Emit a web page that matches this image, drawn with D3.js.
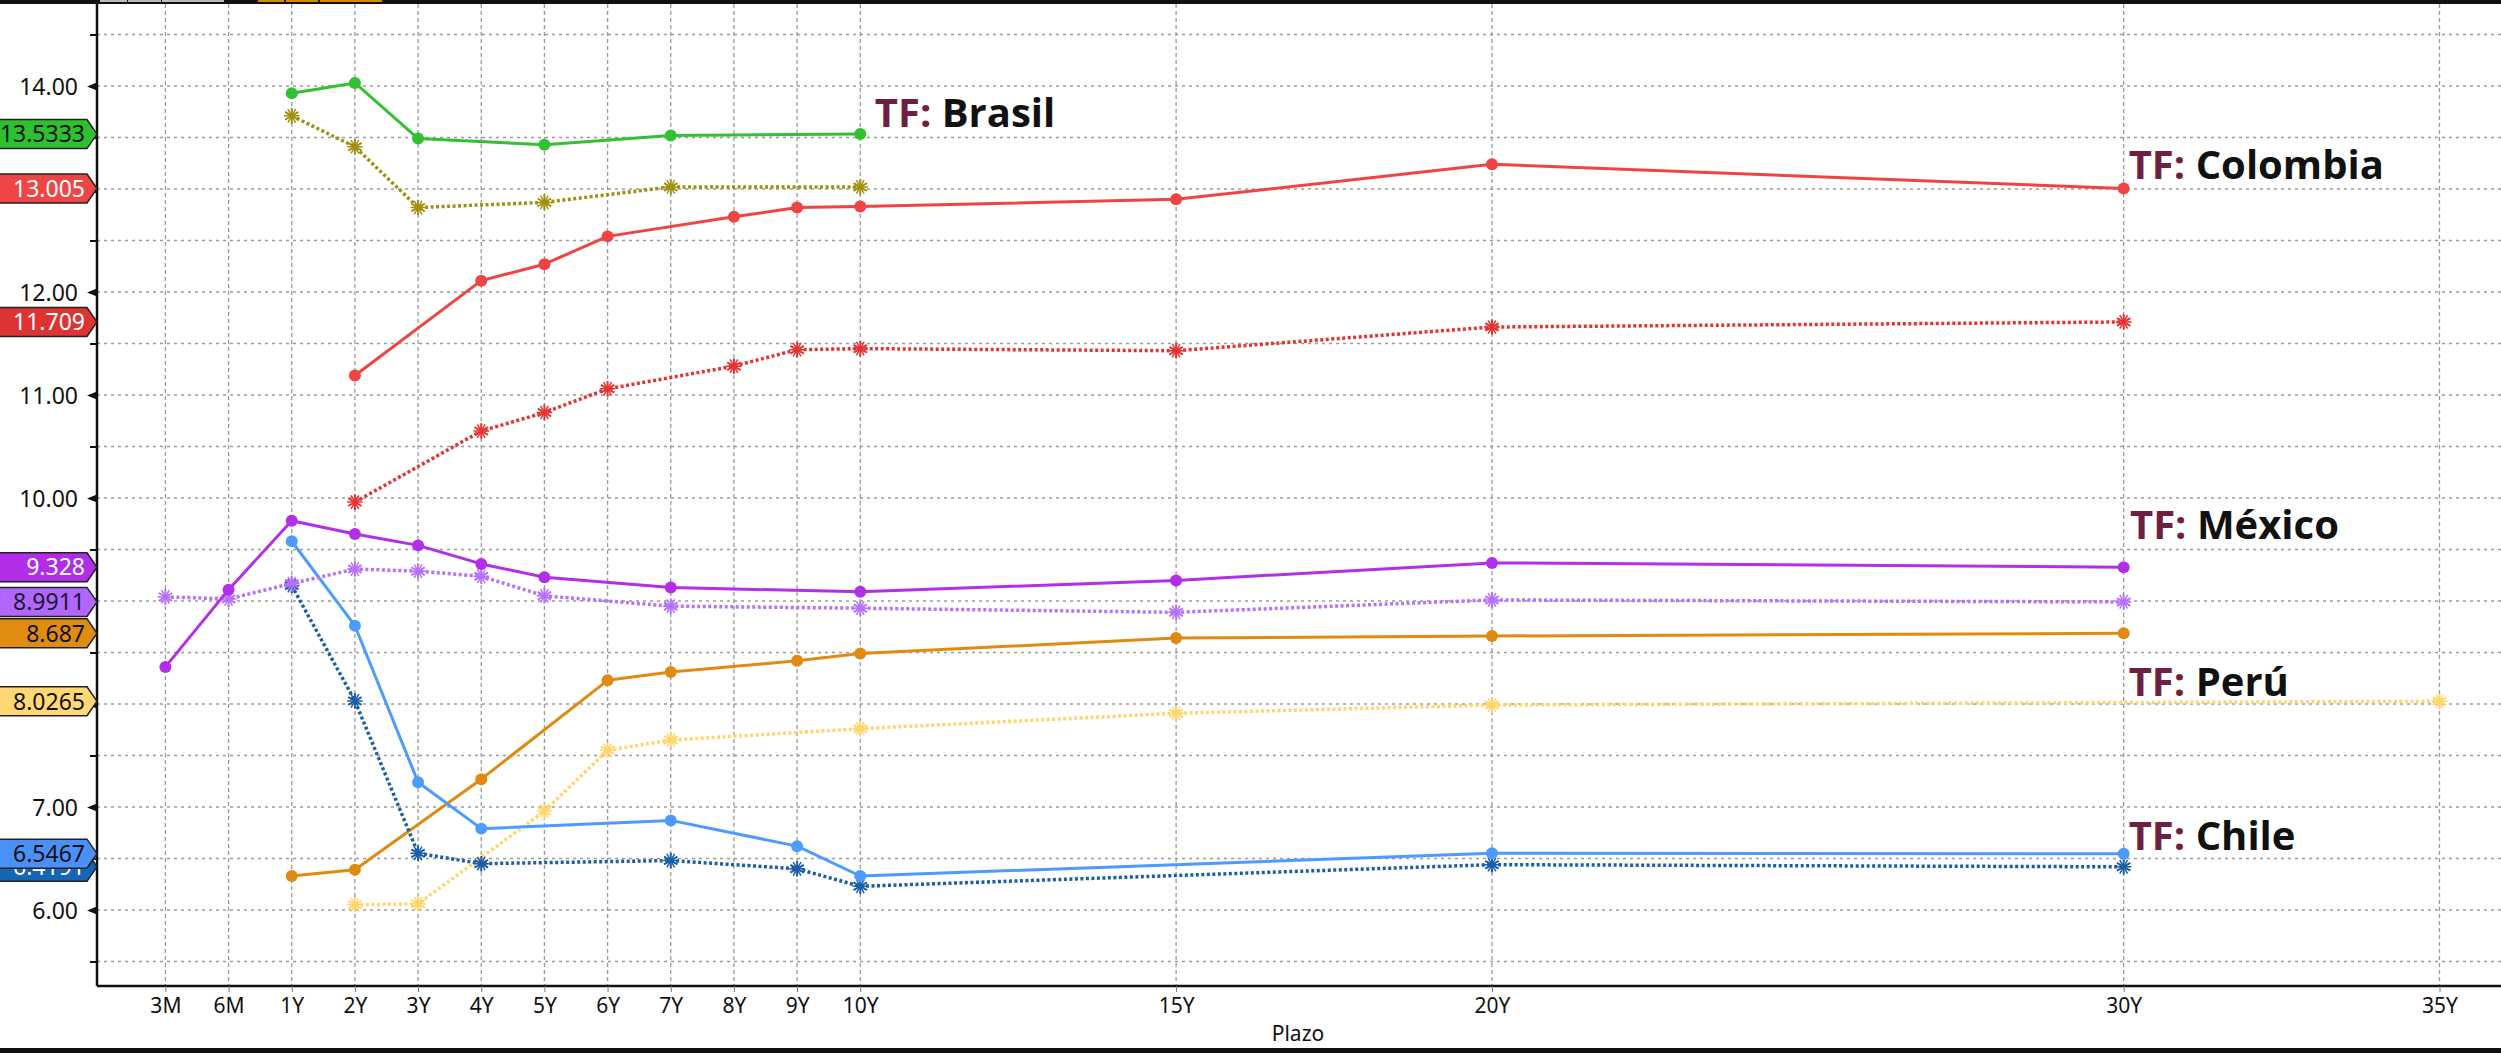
<!DOCTYPE html>
<html>
<head>
<meta charset="utf-8">
<script src="https://cdn.jsdelivr.net/npm/d3@7"></script>
<style>
  html, body { margin: 0; padding: 0; background: #fff; }
  svg { display: block; }
  .tick text { font-family: "Noto Sans", "Liberation Sans", sans-serif; fill: #111; }
  .note { font-family: "Open Sans", "Noto Sans", sans-serif; font-weight: 700; font-size: 40px; }
</style>
</head>
<body>
<div id="chart"></div>
<script>
// Tenors (labels and their position on the x axis)
const tenorLabels = ["3M", "6M", "1Y", "2Y", "3Y", "4Y", "5Y", "6Y", "7Y", "8Y", "9Y", "10Y", "15Y", "20Y", "30Y", "35Y"];
const tenorPos = [-1, 0, 1, 2, 3, 4, 5, 6, 7, 8, 9, 10, 15, 20, 30, 35];
const yTicks = [5.5, 6, 6.5, 7, 7.5, 8, 8.5, 9, 9.5, 10, 10.5, 11, 11.5, 12, 12.5, 13, 13.5, 14, 14.5];

// Brasil
const brasilTenors = ["1Y", "2Y", "3Y", "5Y", "7Y", "10Y"];
const brasilActual = [13.93, 14.03, 13.49, 13.43, 13.52, 13.5333];
const brasilPrevio = [13.71, 13.41, 12.82, 12.87, 13.02, 13.02];

// Colombia
const colombiaTenors = ["2Y", "4Y", "5Y", "6Y", "8Y", "9Y", "10Y", "15Y", "20Y", "30Y"];
const colombiaActual = [11.19, 12.11, 12.27, 12.54, 12.73, 12.82, 12.83, 12.90, 13.24, 13.005];
const colombiaPrevio = [9.96, 10.65, 10.83, 11.06, 11.28, 11.44, 11.45, 11.43, 11.66, 11.709];

// México
const mexicoTenors = ["3M", "6M", "1Y", "2Y", "3Y", "4Y", "5Y", "7Y", "10Y", "15Y", "20Y", "30Y"];
const mexicoActual = [8.36, 9.11, 9.78, 9.65, 9.54, 9.36, 9.23, 9.13, 9.09, 9.20, 9.37, 9.328];
const mexicoPrevio = [9.04, 9.02, 9.17, 9.31, 9.29, 9.24, 9.05, 8.95, 8.93, 8.89, 9.01, 8.9911];

// Perú
const peruTenors = ["1Y", "2Y", "4Y", "6Y", "7Y", "9Y", "10Y", "15Y", "20Y", "30Y"];
const peruActual = [6.33, 6.39, 7.27, 8.23, 8.31, 8.42, 8.49, 8.64, 8.66, 8.687];
const peruPrevTenors = ["2Y", "3Y", "5Y", "6Y", "7Y", "10Y", "15Y", "20Y", "35Y"];
const peruPrevio = [6.05, 6.06, 6.96, 7.55, 7.65, 7.76, 7.91, 7.99, 8.0265];

// Chile
const chileTenors = ["1Y", "2Y", "3Y", "4Y", "7Y", "9Y", "10Y", "20Y", "30Y"];
const chileActual = [9.58, 8.76, 7.24, 6.79, 6.87, 6.62, 6.33, 6.55, 6.5467];
const chilePrevio = [9.15, 8.03, 6.55, 6.45, 6.48, 6.40, 6.23, 6.44, 6.4191];

// Last-value tags on the left axis
const tagLabels = ["6.4191", "6.5467", "8.0265", "8.687", "8.9911", "9.328", "11.709", "13.005", "13.5333"];
const tagValues = [6.4191, 6.5467, 8.0265, 8.687, 8.9911, 9.328, 11.709, 13.005, 13.5333];
const tagFill = ["#1565b5", "#4a90f8", "#ffd873", "#e08c10", "#b066ff", "#b02ee8", "#dd3333", "#f04545", "#2ec02e"];
const tagText = ["#ffffff", "#111111", "#111111", "#111111", "#1a1a2a", "#ffffff", "#ffffff", "#ffffff", "#111111"];

// Country notes
const noteNames = ["Brasil", "Colombia", "México", "Perú", "Chile"];
const noteTenor = [10.23, 30.08, 30.1, 30.08, 30.08];
const noteValue = [13.60, 13.10, 9.60, 8.08, 6.58];

const width = 2501, height = 1053;
const plotLeft = 97, plotRight = 2501, plotTop = 4, plotBottom = 986;

const svg = d3.select("#chart").append("svg")
    .attr("width", width)
    .attr("height", height);

const tenorX = d3.scaleOrdinal().domain(tenorLabels).range(tenorPos);
const x = d3.scaleLinear().domain([-1, 35]).range([165.4, 2439.5]);
const y = d3.scaleLinear().domain([6, 14]).range([910, 86]);

// frame bars (top and bottom of the screenshot)
svg.append("rect").attr("x", 0).attr("y", 0).attr("width", width).attr("height", 4).attr("fill", "#111");
svg.append("rect").attr("x", 0).attr("y", 1048).attr("width", width).attr("height", 5).attr("fill", "#111");
[[100, 27, "#bbb"], [128, 33, "#bbb"], [162, 62, "#bbb"], [258, 26, "#d9860e"], [286, 32, "#d9860e"], [320, 62, "#d9860e"]]
    .forEach(b => svg.append("rect").attr("x", b[0]).attr("y", 0).attr("width", b[1]).attr("height", 2).attr("fill", b[2]));

// grid
const grid = svg.append("g").attr("class", "grid");
grid.selectAll(".hgrid")
    .data(yTicks)
    .join("line")
    .attr("x1", plotLeft).attr("x2", plotRight)
    .attr("y1", d => y(d)).attr("y2", d => y(d))
    .attr("stroke", "#9a9a9a").attr("stroke-width", 1.3)
    .attr("stroke-dasharray", "3,4");
grid.selectAll(".vgrid")
    .data(tenorLabels)
    .join("line")
    .attr("x1", d => x(tenorX(d))).attr("x2", d => x(tenorX(d)))
    .attr("y1", plotTop).attr("y2", plotBottom)
    .attr("stroke", "#9a9a9a").attr("stroke-width", 1.3)
    .attr("stroke-dasharray", "4,3");

// axes (labels hidden behind a value tag are left out)
const coveredByTag = d => tagValues.some(v => Math.abs(v - d) < 0.2);
const yAxis = svg.append("g")
    .attr("transform", `translate(${plotLeft},0)`)
    .call(d3.axisLeft(y).tickValues(yTicks).tickSize(7).tickPadding(12)
        .tickFormat(d => Number.isInteger(d) && !coveredByTag(d) ? d.toFixed(2) : ""));
yAxis.select(".domain").attr("d", `M0,${plotTop}V${plotBottom}`).attr("stroke", "#111").attr("stroke-width", 2.5);
yAxis.selectAll(".tick line").attr("stroke", "#111").attr("stroke-width", 2);
yAxis.selectAll(".tick text").attr("font-size", 23).attr("dy", "0.36em");
yAxis.selectAll(".tick").filter(d => Number.isInteger(d))
    .append("path").attr("d", "M0,-4L-10,0L0,4Z").attr("fill", "#111");

const xAxis = svg.append("g")
    .attr("transform", `translate(0,${plotBottom})`)
    .call(d3.axisBottom(x).tickValues(tenorPos).tickSize(6).tickPadding(6)
        .tickFormat((d, i) => tenorLabels[i]));
xAxis.select(".domain").attr("d", `M${plotLeft},0H${plotRight}`).attr("stroke", "#111").attr("stroke-width", 2.5);
xAxis.selectAll(".tick line").attr("stroke", "#777");
xAxis.selectAll(".tick text").attr("font-size", 21);

svg.append("text")
    .attr("x", 1298).attr("y", 1041)
    .attr("text-anchor", "middle")
    .attr("font-family", "Noto Sans, Liberation Sans, sans-serif")
    .attr("font-size", 21).attr("fill", "#111")
    .text("Plazo");

// series
const series = [
    { tenors: peruPrevTenors, values: peruPrevio, color: "#ffd66e", dotted: true },
    { tenors: peruTenors, values: peruActual, color: "#e08a12", dotted: false },
    { tenors: chileTenors, values: chilePrevio, color: "#1a5fa5", dotted: true },
    { tenors: chileTenors, values: chileActual, color: "#4d9bff", dotted: false },
    { tenors: mexicoTenors, values: mexicoPrevio, color: "#b870ff", dotted: true },
    { tenors: mexicoTenors, values: mexicoActual, color: "#b22ee8", dotted: false },
    { tenors: colombiaTenors, values: colombiaPrevio, color: "#e33434", dotted: true },
    { tenors: colombiaTenors, values: colombiaActual, color: "#f04444", dotted: false },
    { tenors: brasilTenors, values: brasilPrevio, color: "#a09010", dotted: true },
    { tenors: brasilTenors, values: brasilActual, color: "#33c033", dotted: false }
];

const line = d3.line().x(d => x(tenorX(d[0]))).y(d => y(d[1]));
const star = d3.symbol().type(d3.symbolAsterisk).size(170);

series.forEach(s => {
    const pts = s.tenors.map((t, i) => [t, s.values[i]]);
    const g = svg.append("g");
    g.append("path")
        .datum(pts)
        .attr("d", line)
        .attr("fill", "none")
        .attr("stroke", s.color)
        .attr("stroke-width", s.dotted ? 3.5 : 3)
        .attr("stroke-dasharray", s.dotted ? "3,2.5" : null)
        .attr("stroke-linejoin", "round");
    if (s.dotted) {
        g.selectAll(".m").data(pts).join("path")
            .attr("transform", d => `translate(${x(tenorX(d[0]))},${y(d[1])})`)
            .attr("d", star)
            .attr("fill", "none").attr("stroke", s.color).attr("stroke-width", 2);
        g.selectAll(".m2").data(pts).join("path")
            .attr("transform", d => `translate(${x(tenorX(d[0]))},${y(d[1])}) rotate(90)`)
            .attr("d", star)
            .attr("fill", "none").attr("stroke", s.color).attr("stroke-width", 1.5);
    } else {
        g.selectAll(".m").data(pts).join("circle")
            .attr("cx", d => x(tenorX(d[0])))
            .attr("cy", d => y(d[1]))
            .attr("r", 6)
            .attr("fill", s.color);
    }
});

// notes
noteNames.forEach((n, i) => {
    const t = svg.append("text")
        .attr("class", "note")
        .attr("x", x(noteTenor[i]))
        .attr("y", y(noteValue[i]));
    t.append("tspan").attr("fill", "#6e1f42").text("TF: ");
    t.append("tspan").attr("fill", "#111").text(n);
});

// value tags
const tags = svg.append("g");
tagValues.forEach((v, i) => {
    const g = tags.append("g").attr("transform", `translate(0,${y(v)})`);
    g.append("path")
        .attr("d", "M-4,-14.5H87L97,0L87,14.5H-4Z")
        .attr("fill", tagFill[i])
        .attr("stroke", "#222").attr("stroke-width", 1.5);
    g.append("text")
        .attr("x", 85).attr("dy", "0.36em")
        .attr("text-anchor", "end")
        .attr("font-family", "Noto Sans, Liberation Sans, sans-serif")
        .attr("font-size", 23)
        .attr("fill", tagText[i])
        .text(tagLabels[i]);
});
</script>
</body>
</html>
